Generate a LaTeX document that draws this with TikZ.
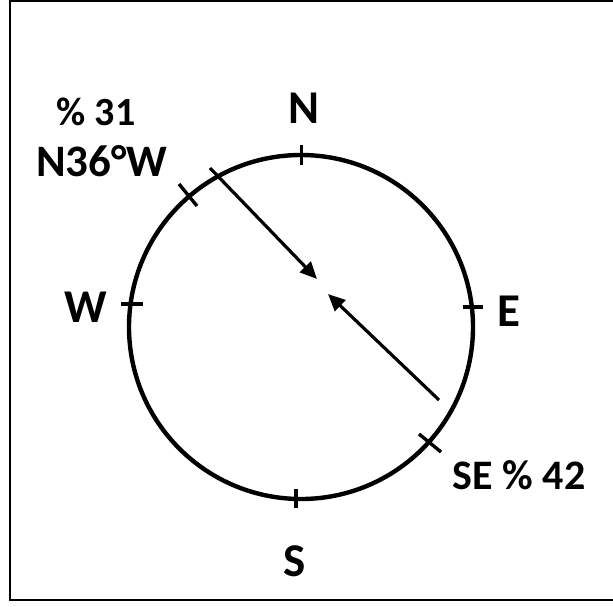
\documentclass[tikz,border=0pt]{standalone}
\usepackage{fontspec}
\setmainfont{Carlito}
\usetikzlibrary{arrows.meta}

\begin{document}
\begin{tikzpicture}[x=1pt, y=-1pt, font=\bfseries,
  markline/.style={line width=3.4pt},
  flow/.style={line width=3.2pt, -{Triangle[length=17pt, width=15pt]}},
  dirlbl/.style={inner sep=0pt, font=\bfseries\fontsize{47}{50}\selectfont}]
  \useasboundingbox (0,0) rectangle (613,606);
  % --- ramme ---
  \draw[line width=2.6pt] (613,1) -- (10,1) -- (10,600) -- (613,600);
  % --- kompas ---
  \node[circle, draw, line width=4.4pt, minimum size=344pt, inner sep=0pt, outer sep=0pt] (rose) at (301,327) {};
  \draw[markline] (301.5,145) -- (301.5,165);
  \draw[markline] (296,489) -- (296,508);
  \draw[markline] (121,304) -- (143,304);
  \draw[markline] (463,307) -- (483,307);
  \draw[markline] (179,184) -- (197,206);
  \draw[markline] (419,434) -- (441,452);
  \node[dirlbl] (north) at (304,108) {N};
  \node[dirlbl] (west)  at (86,307)  {W};
  \node[dirlbl] (east)  at (509,311) {E};
  \node[dirlbl] (south) at (295,561) {S};
  % --- vindretninger ---
  \node[inner sep=0pt, font=\bfseries\fontsize{40}{44}\selectfont] (nwpct) at (96,112) {\% 31};
  \node[inner sep=0pt, font=\bfseries\fontsize{45}{48}\selectfont] (nwdir) at (102,161) {N36°W};
  \node[inner sep=0pt, font=\bfseries\fontsize{42}{46}\selectfont] (sedir) at (519,475) {SE \% 42};
  \coordinate (nwtail) at (210,168);
  \coordinate (nwhead) at (317,279);
  \coordinate (setail) at (439,400);
  \coordinate (sehead) at (328,294);
  \draw[flow] (nwtail) -- (nwhead);
  \draw[flow] (setail) -- (sehead);
\end{tikzpicture}
\end{document}
